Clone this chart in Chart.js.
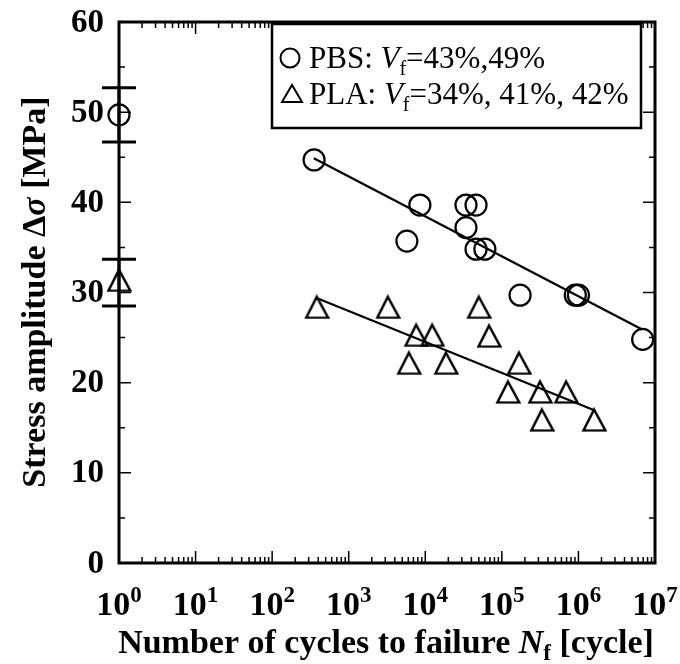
<!DOCTYPE html>
<html>
<head>
<meta charset="utf-8">
<script src="https://cdn.jsdelivr.net/npm/chart.js@4.4.1/dist/chart.umd.min.js"></script>
<style>
html,body{margin:0;padding:0;background:#fff;}
#wrap{width:680px;height:664px;position:relative;}
</style>
</head>
<body>
<div id="wrap"><canvas id="snChart"></canvas></div>
<script>

// PBS fatigue results
const pbsCycles = [353, 5750, 8500, 34000, 34000, 46000, 46000, 60000, 173000, 910000, 1000000, 6900000];
const pbsStress = [44.7, 35.7, 39.7, 37.2, 39.7, 39.7, 34.8, 34.8, 29.7, 29.7, 29.7, 24.8];

// PLA fatigue results
const plaCycles = [382, 3240, 7600, 12300, 6100, 18600, 50000, 68000, 167000, 120000, 315000, 690000, 333000, 1600000];
const plaStress = [28.4, 28.4, 25.3, 25.3, 22.2, 22.2, 28.4, 25.2, 22.2, 19.0, 19.0, 19.0, 15.9, 15.9];

// static strength at N = 10^0, with scatter bars
const staticCycles = [1, 1];
const staticStress = [49.7, 31.4];
const staticLow = [46.7, 28.5];
const staticHigh = [52.7, 33.7];

// fitted S-N lines
const pbsFitCycles = [350, 6800000];
const pbsFitStress = [44.9, 25.9];
const plaFitCycles = [380, 1550000];
const plaFitStress = [29.4, 17.0];

const xDecades = [0, 1, 2, 3, 4, 5, 6, 7];
const yTicks = [0, 10, 20, 30, 40, 50, 60];

const serif = '"Liberation Serif", "Times New Roman", serif';

function pts(xs, ys){
return xs.map((x, i) => ({x: x, y: ys[i]}));
}

function makeTriangle(w, h, lw){
const c = document.createElement("canvas");
c.width = w + lw * 2;
c.height = h + lw * 2;
const g = c.getContext("2d");
g.strokeStyle = "#000";
g.lineWidth = lw;
g.lineJoin = "miter";
g.beginPath();
g.moveTo(c.width / 2, lw);
g.lineTo(lw, lw + h);
g.lineTo(lw + w, lw + h);
g.closePath();
g.stroke();
return c;
}

const triMark = makeTriangle(22, 21, 2.4);

// draws a run of text pieces with different fonts / offsets
function richWidth(ctx, parts){
let w = 0;
parts.forEach(p => { ctx.font = p.font; w += ctx.measureText(p.t).width; });
return w;
}
function drawRich(ctx, parts, x, y){
let cx = x;
parts.forEach(p => {
ctx.font = p.font;
ctx.fillText(p.t, cx, y + (p.dy || 0));
cx += ctx.measureText(p.t).width;
});
}

const framePlugin = {
id: "frame",
afterDatasetsDraw(chart){
const ctx = chart.ctx;
const xs = chart.scales.x;
const ys = chart.scales.y;
const a = chart.chartArea;
ctx.save();
ctx.strokeStyle = "#000";
ctx.fillStyle = "#000";

// error bars for static strength
ctx.lineWidth = 3;
staticCycles.forEach((c, i) => {
const px = xs.getPixelForValue(c);
const lo = ys.getPixelForValue(staticLow[i]);
const hi = ys.getPixelForValue(staticHigh[i]);
ctx.beginPath();
ctx.moveTo(px, lo); ctx.lineTo(px, hi);
ctx.moveTo(px - 17, lo); ctx.lineTo(px + 17, lo);
ctx.moveTo(px - 17, hi); ctx.lineTo(px + 17, hi);
ctx.stroke();
});

// ticks, inward on all four sides
ctx.lineWidth = 1.5;
ctx.beginPath();
for (let d = 0; d < 7; d++){
for (let k = 1; k <= 9; k++){
const px = xs.getPixelForValue(k * Math.pow(10, d));
const len = k === 1 ? 12 : 6;
ctx.moveTo(px, a.bottom); ctx.lineTo(px, a.bottom - len);
ctx.moveTo(px, a.top); ctx.lineTo(px, a.top + len);
}
}
for (let v = 0; v <= 60; v += 5){
const py = ys.getPixelForValue(v);
const len = v % 10 === 0 ? 12 : 6;
ctx.moveTo(a.left, py); ctx.lineTo(a.left + len, py);
ctx.moveTo(a.right, py); ctx.lineTo(a.right - len, py);
}
ctx.stroke();

// frame
ctx.lineWidth = 3;
ctx.strokeRect(a.left, a.top, a.right - a.left, a.bottom - a.top);

// y tick labels
ctx.font = "bold 33px " + serif;
ctx.textAlign = "right";
ctx.textBaseline = "middle";
yTicks.forEach(v => {
ctx.fillText(String(v), a.left - 15, ys.getPixelForValue(v) + 1);
});

// x tick labels 10^n
ctx.textAlign = "left";
ctx.textBaseline = "alphabetic";
xDecades.forEach(d => {
const parts = [
{t: "10", font: "bold 34px " + serif},
{t: String(d), font: "bold 23px " + serif, dy: -13}
];
const w = richWidth(ctx, parts);
drawRich(ctx, parts, xs.getPixelForValue(Math.pow(10, d)) - w / 2, 615);
});

// x title
const xt = [
{t: "Number of cycles to failure ", font: "bold 34px " + serif},
{t: "N", font: "italic bold 34px " + serif},
{t: "f", font: "bold 23px " + serif, dy: 7},
{t: " [cycle]", font: "bold 34px " + serif}
];
drawRich(ctx, xt, 386 - richWidth(ctx, xt) / 2, 653);

// y title
const yt = [
{t: "Stress amplitude ", font: "bold 34px " + serif},
{t: "\u0394", font: "bold 34px " + serif},
{t: "\u03c3", font: "italic bold 34px " + serif},
{t: " [MPa]", font: "bold 34px " + serif}
];
ctx.save();
ctx.translate(45, 292);
ctx.rotate(-Math.PI / 2);
drawRich(ctx, yt, -richWidth(ctx, yt) / 2, 0);
ctx.restore();

// legend box
ctx.fillStyle = "#fff";
ctx.fillRect(272, 24, 369, 104);
ctx.lineWidth = 2.5;
ctx.strokeRect(272, 24, 369, 104);
ctx.fillStyle = "#000";
ctx.lineWidth = 2;
ctx.beginPath();
ctx.arc(290, 58, 9.5, 0, Math.PI * 2);
ctx.stroke();
ctx.beginPath();
ctx.moveTo(292, 85); ctx.lineTo(282, 102); ctx.lineTo(302, 102); ctx.closePath();
ctx.stroke();
const reg = "31px " + serif;
const sub = "20px " + serif;
drawRich(ctx, [
{t: "PBS: ", font: reg},
{t: "V", font: "italic " + reg},
{t: "f", font: sub, dy: 7},
{t: "=43%,49%", font: reg}
], 309, 68);
drawRich(ctx, [
{t: "PLA: ", font: reg},
{t: "V", font: "italic " + reg},
{t: "f", font: sub, dy: 7},
{t: "=34%, 41%, 42%", font: reg}
], 309, 104);

ctx.restore();
}
};

new Chart(document.getElementById("snChart"), {
type: "scatter",
data: {
datasets: [
{
label: "PBS fit",
data: pts(pbsFitCycles, pbsFitStress),
showLine: true,
borderColor: "#000",
borderWidth: 2.2,
pointRadius: 0
},
{
label: "PLA fit",
data: pts(plaFitCycles, plaFitStress),
showLine: true,
borderColor: "#000",
borderWidth: 2.2,
pointRadius: 0
},
{
label: "PBS",
data: pts(pbsCycles, pbsStress),
pointStyle: "circle",
pointRadius: 10.5,
borderColor: "#000",
borderWidth: 2.2,
backgroundColor: "rgba(0,0,0,0)"
},
{
label: "PLA",
data: pts(plaCycles, plaStress),
pointStyle: triMark,
borderColor: "#000",
backgroundColor: "rgba(0,0,0,0)"
},
{
label: "PBS static",
data: [{x: staticCycles[0], y: staticStress[0]}],
pointStyle: "circle",
pointRadius: 10.5,
borderColor: "#000",
borderWidth: 2.2,
backgroundColor: "rgba(0,0,0,0)",
clip: false
},
{
label: "PLA static",
data: [{x: staticCycles[1], y: staticStress[1]}],
pointStyle: triMark,
clip: false
}
]
},
options: {
responsive: true,
maintainAspectRatio: false,
animation: false,
layout: {padding: {left: 119, right: 25, top: 22, bottom: 101}},
scales: {
x: {type: "logarithmic", min: 1, max: 1e7, display: false},
y: {type: "linear", min: 0, max: 60, display: false}
},
plugins: {
legend: {display: false},
tooltip: {enabled: false}
}
},
plugins: [framePlugin]
});

</script>
</body>
</html>
